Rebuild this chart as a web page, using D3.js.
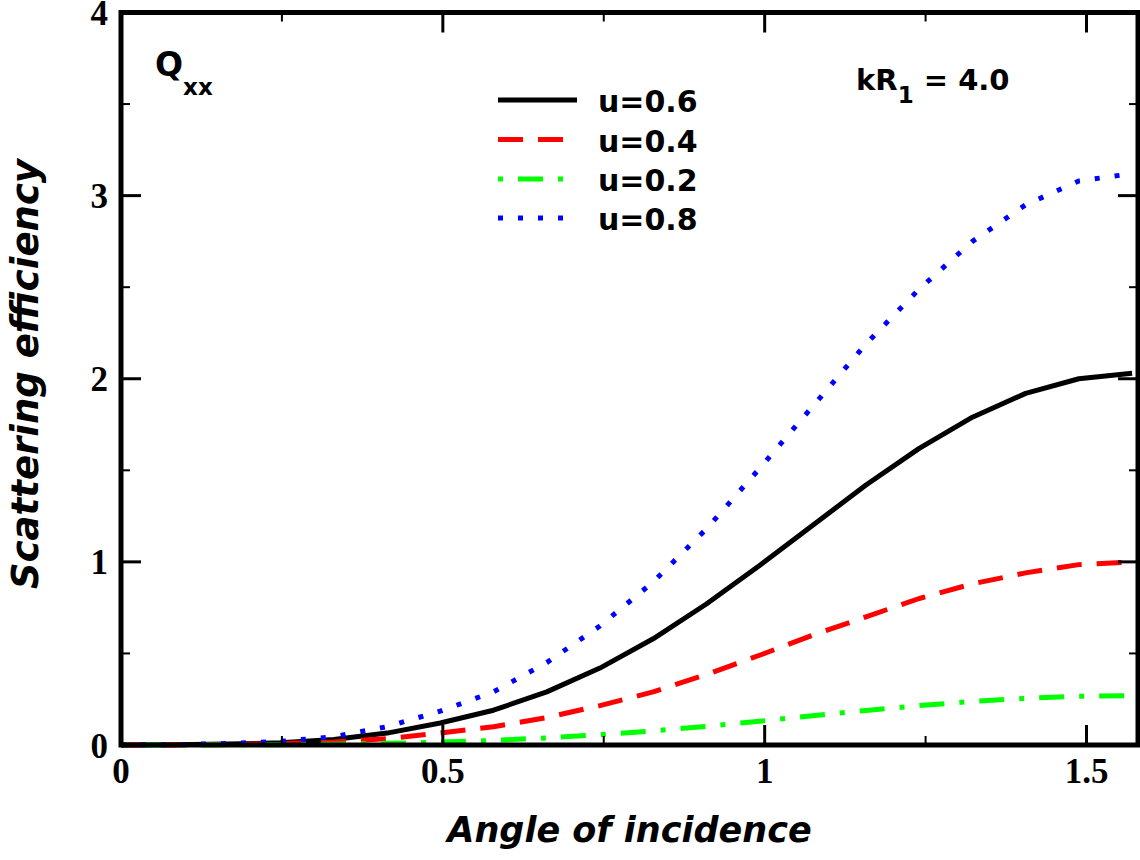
<!DOCTYPE html>
<html>
<head>
<meta charset="utf-8">
<script src="https://cdn.jsdelivr.net/npm/d3@7"></script>
<style>
    body { margin: 0; background: #fff; }
    svg { display: block; }
</style>
</head>
<body>
<div id="chart"></div>
<script>
// data: angle samples (i * pi/38) and efficiency per u value
const angles = d3.range(20).map(i => i * Math.PI / 38);
const u06 = [0, 0.001, 0.005, 0.012, 0.03, 0.065, 0.12, 0.19, 0.29, 0.42, 0.58, 0.77, 0.98, 1.20, 1.42, 1.62, 1.79, 1.92, 2.00, 2.03];
const u04 = [0, 0.0005, 0.003, 0.007, 0.017, 0.035, 0.065, 0.10, 0.15, 0.215, 0.29, 0.385, 0.49, 0.60, 0.70, 0.80, 0.88, 0.94, 0.985, 1.0];
const u02 = [0, 0.0001, 0.0007, 0.0016, 0.004, 0.009, 0.016, 0.025, 0.039, 0.056, 0.077, 0.102, 0.13, 0.16, 0.189, 0.215, 0.238, 0.255, 0.266, 0.27];
const u08 = [0, 0.002, 0.008, 0.02, 0.045, 0.10, 0.185, 0.29, 0.45, 0.65, 0.89, 1.18, 1.51, 1.85, 2.19, 2.49, 2.75, 2.95, 3.08, 3.12];

const seriesNames = ['u=0.6', 'u=0.4', 'u=0.2', 'u=0.8'];
const seriesValues = [u06, u04, u02, u08];
const seriesColors = ['#000000', '#ff0000', '#00ff00', '#0000ff'];
const seriesDashes = ['none', '25,15', '5,15,25,15', '5,15'];

const xMajor = [0, 0.5, 1, 1.5];
const xMinor = [0.25, 0.75, 1.25];
const yMajor = [0, 1, 2, 3, 4];
const yMinor = [0.5, 1.5, 2.5, 3.5];

const width = 1140, height = 860;
const margin = {top: 12.5, right: 2, bottom: 115, left: 121};

const svg = d3.select('#chart').append('svg')
    .attr('width', width)
    .attr('height', height);

const x = d3.scaleLinear().domain([0, 1.58]).range([margin.left, width - margin.right]);
const y = d3.scaleLinear().domain([0, 4]).range([height - margin.bottom, margin.top]);

const sansFont = '"DejaVu Sans", sans-serif';
const serifFont = '"Liberation Serif", "Times New Roman", serif';

// curves
const line = d3.line()
    .x((d, i) => x(angles[i]))
    .y(d => y(d));

seriesValues.forEach((vals, k) => {
    svg.append('path')
        .datum(vals)
        .attr('fill', 'none')
        .attr('stroke', seriesColors[k])
        .attr('stroke-width', 5)
        .attr('stroke-dasharray', seriesDashes[k])
        .attr('stroke-linejoin', 'round')
        .attr('d', line);
});

// ticks, inward on all four sides
function addTicks(values, len, w) {
    values.forEach(v => {
        svg.append('line').attr('x1', x(v)).attr('x2', x(v))
            .attr('y1', y(0)).attr('y2', y(0) - len)
            .attr('stroke', '#000').attr('stroke-width', w);
        svg.append('line').attr('x1', x(v)).attr('x2', x(v))
            .attr('y1', y(4)).attr('y2', y(4) + len)
            .attr('stroke', '#000').attr('stroke-width', w);
    });
}
function addYTicks(values, len, w) {
    values.forEach(v => {
        svg.append('line').attr('x1', x.range()[0]).attr('x2', x.range()[0] + len)
            .attr('y1', y(v)).attr('y2', y(v))
            .attr('stroke', '#000').attr('stroke-width', w);
        svg.append('line').attr('x1', x.range()[1]).attr('x2', x.range()[1] - len)
            .attr('y1', y(v)).attr('y2', y(v))
            .attr('stroke', '#000').attr('stroke-width', w);
    });
}
addTicks(xMajor, 20, 3);
addTicks(xMinor, 9, 2);
addYTicks(yMajor, 20, 3);
addYTicks(yMinor, 9, 2);

// frame
svg.append('rect')
    .attr('x', x.range()[0])
    .attr('y', y(4))
    .attr('width', x.range()[1] - x.range()[0])
    .attr('height', y(0) - y(4))
    .attr('fill', 'none')
    .attr('stroke', '#000')
    .attr('stroke-width', 5);

// tick labels
svg.selectAll('.xlab').data(xMajor).enter().append('text')
    .attr('x', d => x(d))
    .attr('y', 783)
    .attr('text-anchor', 'middle')
    .attr('font-family', serifFont)
    .attr('font-weight', 'bold')
    .attr('font-size', 35)
    .text(d => d);

svg.selectAll('.ylab').data(yMajor).enter().append('text')
    .attr('x', 108)
    .attr('y', d => y(d) + 12.5)
    .attr('text-anchor', 'end')
    .attr('font-family', serifFont)
    .attr('font-weight', 'bold')
    .attr('font-size', 35)
    .text(d => d);

// axis titles
svg.append('text')
    .attr('x', (x.range()[0] + x.range()[1]) / 2)
    .attr('y', 842)
    .attr('text-anchor', 'middle')
    .attr('font-family', sansFont)
    .attr('font-weight', 'bold')
    .attr('font-style', 'italic')
    .attr('font-size', 35)
    .text('Angle of incidence');

svg.append('text')
    .attr('transform', 'translate(38,374) rotate(-90)')
    .attr('text-anchor', 'middle')
    .attr('font-family', sansFont)
    .attr('font-weight', 'bold')
    .attr('font-style', 'italic')
    .attr('font-size', 37)
    .text('Scattering efficiency');

// Q_xx label
const q = svg.append('text')
    .attr('x', 155)
    .attr('y', 76)
    .attr('font-family', sansFont)
    .attr('font-weight', 'bold')
    .attr('font-size', 33);
q.append('tspan').text('Q');
q.append('tspan').attr('dy', 19).attr('font-size', 23).text('xx');

// kR1 label
const k = svg.append('text')
    .attr('x', 856)
    .attr('y', 90)
    .attr('font-family', sansFont)
    .attr('font-weight', 'bold')
    .attr('font-size', 29);
k.append('tspan').text('kR');
k.append('tspan').attr('dy', 13).attr('font-size', 23).text('1');
k.append('tspan').attr('dy', -13).text(' = 4.0');

// legend
const legendY = [100, 139.5, 179, 218];
seriesNames.forEach((name, i) => {
    svg.append('line')
        .attr('x1', 498).attr('x2', 577)
        .attr('y1', legendY[i]).attr('y2', legendY[i])
        .attr('stroke', seriesColors[i])
        .attr('stroke-width', 5)
        .attr('stroke-dasharray', seriesDashes[i]);
    svg.append('text')
        .attr('x', 598)
        .attr('y', legendY[i] + 12)
        .attr('font-family', sansFont)
        .attr('font-weight', 'bold')
        .attr('font-size', 30)
        .text(name);
});
</script>
</body>
</html>
